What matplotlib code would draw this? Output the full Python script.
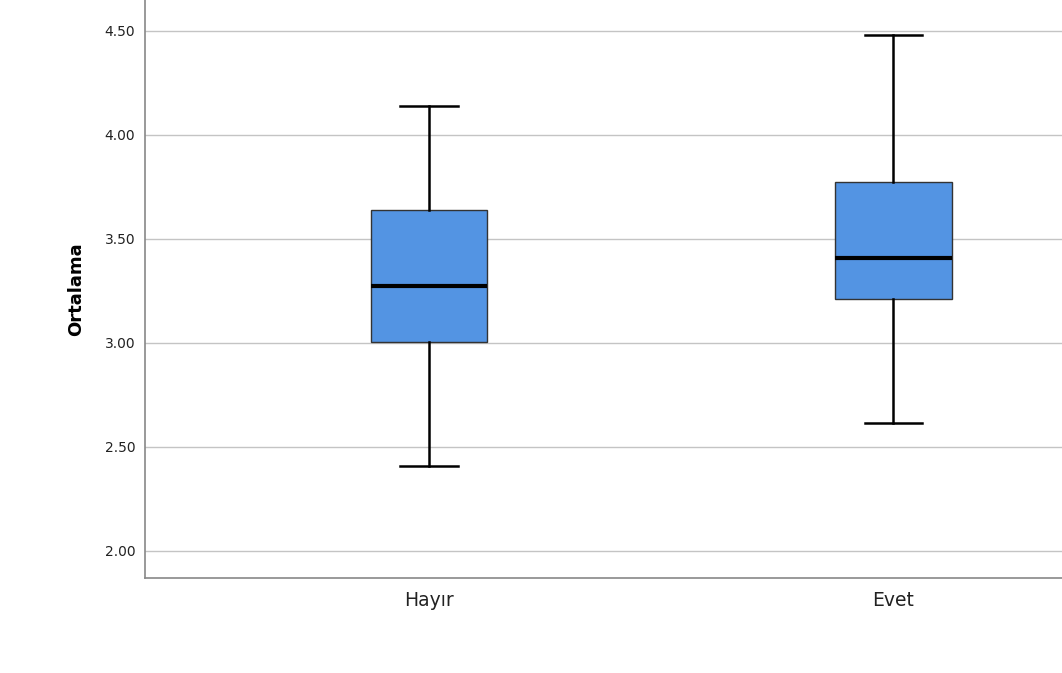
import matplotlib
matplotlib.use("Agg")
import matplotlib.pyplot as plt

# Five-number summaries per group
categories = ["Hayır", "Evet"]
whisker_low = [2.41, 2.615]
q1 = [3.005, 3.21]
median = [3.274, 3.41]
q3 = [3.639, 3.774]
whisker_high = [4.139, 4.481]

yticks = [2.00, 2.50, 3.00, 3.50, 4.00, 4.50]

fig = plt.figure(figsize=(10.62, 6.73), dpi=100)
ax = fig.add_axes([145 / 1062, 1 - 578 / 673, 1 - 145 / 1062, 578 / 673])

stats = []
for i, name in enumerate(categories):
    stats.append(dict(label=name, whislo=whisker_low[i], q1=q1[i], med=median[i],
                      q3=q3[i], whishi=whisker_high[i], fliers=[]))

positions = list(range(len(categories)))
ax.bxp(stats, positions=positions, widths=0.252, patch_artist=True, showfliers=False,
       boxprops=dict(facecolor="#5394e3", edgecolor="#333333", linewidth=1.0),
       medianprops=dict(color="black", linewidth=3.0, solid_capstyle="butt"),
       whiskerprops=dict(color="black", linewidth=1.8),
       capprops=dict(color="black", linewidth=1.8),
       capwidths=0.123, zorder=3)

ax.set_xlim(-0.612, 1.364)
ax.set_ylim(1.870, 4.649)
ax.set_yticks(yticks)
ax.set_yticklabels([f"{v:.2f}" for v in yticks], fontsize=10, color="#222222")
ax.set_xticks(positions)
ax.set_xticklabels(categories, fontsize=13.5, color="#222222")
ax.tick_params(axis="both", length=0)
ax.tick_params(axis="y", pad=7)
ax.tick_params(axis="x", pad=9)

ax.yaxis.grid(True, color="#c4c4c4", linewidth=1.0, zorder=0)
ax.set_axisbelow(True)

for side in ("top", "right"):
    ax.spines[side].set_visible(False)
for side in ("left", "bottom"):
    ax.spines[side].set_color("#888888")
    ax.spines[side].set_linewidth(1.2)

ax.set_ylabel("Ortalama", fontsize=13, fontweight="bold", color="black", labelpad=14)

fig.savefig("out.png", dpi=100)
